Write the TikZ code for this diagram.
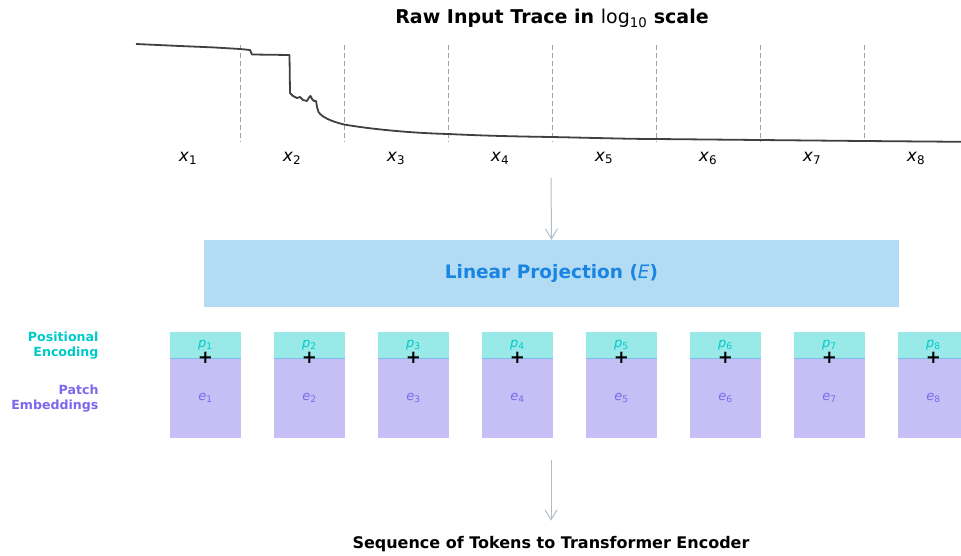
\documentclass[tikz,border=0pt]{standalone}
\usepackage{fontspec}
\setmainfont{DejaVu Sans}
\usetikzlibrary{arrows.meta}

\definecolor{traceclr}{RGB}{64,64,64}
\definecolor{gridclr}{RGB}{160,160,160}
\definecolor{flowclr}{RGB}{176,188,196}
\definecolor{projfill}{RGB}{179,219,244}
\definecolor{projtext}{RGB}{24,133,226}
\definecolor{posfill}{RGB}{154,233,233}
\definecolor{postext}{RGB}{0,201,201}
\definecolor{embfill}{RGB}{197,191,245}
\definecolor{embtext}{RGB}{123,104,238}
\definecolor{sepclr}{RGB}{120,190,232}

\newcommand\symb[2]{\textit{#1}\textsubscript{#2}}

\tikzset{
  flow/.style={draw=flowclr, line width=1pt, -{Straight Barb[length=10pt,width=12pt]}},
  patchsep/.style={draw=gridclr, line width=1pt, dash pattern=on 5pt off 3pt},
  poscell/.style={fill=posfill, minimum width=71pt, minimum height=26pt, inner sep=0pt,
    text=postext, font=\fontsize{13}{15}\selectfont},
  embcell/.style={fill=embfill, minimum width=71pt, minimum height=80pt, inner sep=0pt,
    text=embtext, font=\fontsize{13}{15}\selectfont},
  sidelabel/.style={anchor=east, align=right, font=\bfseries\fontsize{12.6}{15}\selectfont}
}

\begin{document}
\begin{tikzpicture}[x=1pt, y=-1pt]
\useasboundingbox (0,0) rectangle (961,556);
\clip (0,0) rectangle (961,556);

% title
\node[font=\bfseries\fontsize{19}{21}\selectfont] (title) at (552,18)
  {Raw Input Trace in \textmd{log}\textsubscript{\textmd{10}} scale};

% patch boundaries
\foreach \k in {1,...,7}
  \draw[patchsep] (136+104*\k,45) -- (136+104*\k,142);

% the trace
\draw[traceclr, line width=1.8pt, line join=round]
  (136,44) -- (180,46) -- (215,47.5) -- (240,49) -- (250,50) -- (252,54.5)
  -- (289.5,55) -- (290,93) -- (293,96) -- (297,98) -- (300,97) -- (303,100)
  -- (307,101) -- (309,97.5) -- (310.5,96) -- (312,99) -- (314,101) -- (316,101)
  -- (317,107) -- (318.5,112)
  .. controls (322,117) and (330,121) .. (344,124.5)
  .. controls (370,129) and (410,133) .. (448,134)
  .. controls (490,136) and (520,136.5) .. (551,137)
  .. controls (600,138) and (630,139) .. (655,139)
  -- (759,140) -- (863,141) -- (961,141.8);

% patch labels
\foreach \k in {1,...,8}
  \node[font=\fontsize{17}{19}\selectfont] (x\k) at (188+104*\k-104,158) {\symb{x}{\k}};

% projection
\node[fill=projfill, minimum width=695pt, minimum height=67pt, inner sep=0pt,
      text=projtext, font=\bfseries\fontsize{18.5}{20}\selectfont] (proj) at (551.5,273.5)
  {Linear Projection (\textmd{\textit{E}})};
\coordinate (traceout) at (551,178);
\draw[flow] (traceout) -- (proj.north);

% tokens
\foreach \k in {1,...,8} {
  \node[poscell] (p\k) at (205.5+104*\k-104,345) {\symb{p}{\k}};
  \node[embcell] (e\k) at (205.5+104*\k-104,398) {\symb{e}{\k}};
  \draw[sepclr, line width=1.2pt] (p\k.south west) -- (p\k.south east);
  \node[font=\bfseries\fontsize{18}{18}\selectfont, inner sep=0pt] (add\k) at (p\k.south) {+};
}

\node[sidelabel, text=postext] (poslabel) at (102,346) {Positional\\Encoding};
\node[sidelabel, text=embtext] (emblabel) at (102,399) {Patch\\Embeddings};

% output
\node[font=\bfseries\fontsize{16}{18}\selectfont] (seq) at (551,544)
  {Sequence of Tokens to Transformer Encoder};
\coordinate (tokout) at (551,460);
\draw[flow, shorten >=12pt] (tokout) -- (seq.north);

\end{tikzpicture}
\end{document}
